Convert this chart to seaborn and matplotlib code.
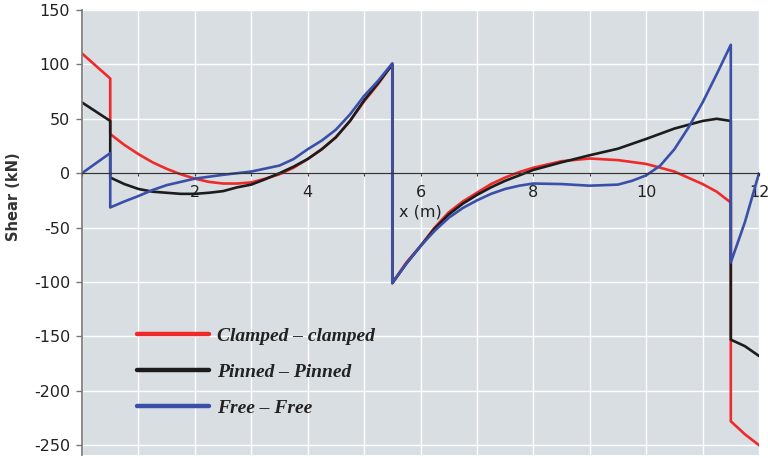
import pandas as pd
import matplotlib
matplotlib.use("Agg")
import matplotlib.pyplot as plt
import seaborn as sns
from matplotlib.font_manager import FontProperties

# shear values (kN), x in m
# repeated x values are the jumps at the supports / loads
x_clamped = [0, 0.5, 0.5, 0.75, 1, 1.25, 1.5, 1.75, 2, 2.25, 2.5, 2.75, 3, 3.25, 3.5, 3.75,
             4, 4.25, 4.5, 4.75, 5, 5.25, 5.5, 5.5, 5.75, 6, 6.25, 6.5, 6.75, 7, 7.25, 7.5,
             7.75, 8, 8.5, 9, 9.5, 10, 10.5, 11, 11.25, 11.5, 11.5, 11.75, 12]
v_clamped = [110, 87, 36, 26, 17.5, 10, 4, -1, -5, -8, -9.5, -9.5, -8.5, -5, -1, 5,
             13, 22, 33, 48, 66, 82, 100, -101, -82, -67, -50, -36, -26, -18, -10, -4,
             1, 5, 11, 13.5, 12, 8.5, 1.5, -10, -17, -27, -228, -240, -250]

x_pinned = [0, 0.5, 0.5, 0.75, 1, 1.25, 1.5, 1.75, 2, 2.25, 2.5, 2.75, 3, 3.25, 3.5, 3.75,
            4, 4.25, 4.5, 4.75, 5, 5.25, 5.5, 5.5, 5.75, 6, 6.25, 6.5, 6.75, 7, 7.25, 7.5,
            7.75, 8, 8.5, 9, 9.5, 10, 10.5, 11, 11.25, 11.5, 11.5, 11.75, 12]
v_pinned = [65, 48, -4, -10, -14.5, -17, -18, -19, -19, -18, -16.5, -13, -10.5, -5.5, 0, 6,
            13, 22, 33, 48, 67, 83, 100, -101, -83, -67, -51, -38, -28, -20, -13, -7,
            -2, 3, 10, 16.5, 22.5, 31.5, 41, 48, 50, 48, -153, -159, -168]

x_free = [0, 0.5, 0.5, 0.75, 1, 1.25, 1.5, 1.75, 2, 2.5, 3, 3.5, 3.75, 4, 4.25, 4.5, 4.75,
          5, 5.25, 5.5, 5.5, 5.75, 6, 6.25, 6.5, 6.75, 7, 7.25, 7.5, 7.75, 8, 8.5, 9, 9.5,
          9.75, 10, 10.25, 10.5, 10.75, 11, 11.25, 11.5, 11.5, 11.75, 12]
v_free = [0, 18.5, -31.5, -26, -21, -15.5, -11, -8, -5, -1.5, 1.5, 7, 13, 22, 30, 40, 54,
          71, 85, 101, -101, -83, -67, -53, -41, -32, -25, -19, -14.5, -11.5, -9.5, -10, -11.5, -10.5,
          -7, -2, 7, 22, 42, 65, 91, 118, -82, -45, 0]

cases = ["Clamped – clamped", "Pinned – Pinned", "Free – Free"]
colors = ["#ee2a2a", "#1c1c1c", "#3a50a8"]

df = pd.concat([
    pd.DataFrame({"x": x_clamped, "V": v_clamped, "case": cases[0]}),
    pd.DataFrame({"x": x_pinned, "V": v_pinned, "case": cases[1]}),
    pd.DataFrame({"x": x_free, "V": v_free, "case": cases[2]}),
], ignore_index=True)

sns.set_style("darkgrid", {"axes.facecolor": "#d9dee3", "grid.color": "white"})
plt.rcParams['font.family'] = ['DejaVu Sans']
plt.rcParams['axes.unicode_minus'] = False

fig = plt.figure(figsize=(7.68, 4.58), dpi=100)
ax = fig.add_axes([0.1068, 0.0066, 0.8815, 0.9716])

sns.lineplot(data=df, x="x", y="V", hue="case", palette=colors, hue_order=cases,
             estimator=None, sort=False, linewidth=1.9, ax=ax)

ax.set_xlim(0, 12)
ax.set_ylim(-259, 150)
ax.set_xticks([2, 4, 6, 8, 10, 12])
ax.set_xticks(range(0, 13), minor=True)
ax.set_yticks(range(-250, 151, 50))
ax.grid(which="both", color="white", linewidth=1)

ax.spines["bottom"].set_position(("data", 0))
ax.spines["bottom"].set_color("#333333")
ax.spines["bottom"].set_linewidth(0.9)
ax.spines["left"].set_color("#777777")
ax.spines["left"].set_linewidth(1.2)
ax.spines["top"].set_visible(False)
ax.spines["right"].set_visible(False)

ax.tick_params(axis="y", left=True, length=4.5, width=1, color="#777777",
               labelsize=11.5, labelcolor="#222222", pad=4)
ax.tick_params(axis="x", which="both", bottom=True, length=2.5, width=0.8,
               color="#333333", labelsize=11.5, labelcolor="#222222", pad=6)

ax.set_xlabel("x (m)", fontsize=11.5, color="#222222")
ax.xaxis.set_label_coords(0.5, 0.562)
ax.set_ylabel("Shear (kN)", fontsize=10.5, fontweight="bold", color="#333333")
ax.yaxis.set_label_coords(-0.09, 0.58)

handles, labels = ax.get_legend_handles_labels()
leg = ax.legend(handles, labels, loc="upper left", bbox_to_anchor=(0.081, 0.287),
                frameon=False, borderaxespad=0, borderpad=0,
                handlelength=3.7, handletextpad=0.4, labelspacing=0.95,
                prop=FontProperties(family="Liberation Serif", style="italic",
                                    weight="bold", size=14))
for line in leg.get_lines():
    line.set_linewidth(3.2)
for t in leg.get_texts():
    t.set_color("#222222")

fig.savefig("out.png", dpi=100)
